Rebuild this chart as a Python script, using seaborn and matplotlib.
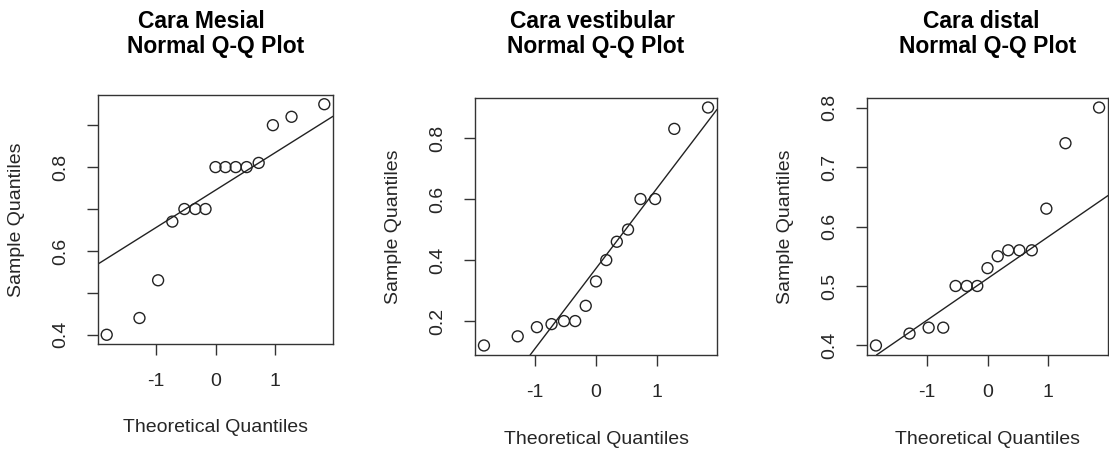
from statistics import NormalDist

import matplotlib
import numpy as np
import seaborn as sns

matplotlib.use("Agg")
import matplotlib.pyplot as plt


# sample values (sorted)
mesial = [0.40, 0.44, 0.53, 0.67, 0.70, 0.70, 0.70, 0.80, 0.80, 0.80, 0.80, 0.81, 0.90, 0.92, 0.95]
vestibular = [0.12, 0.15, 0.18, 0.19, 0.20, 0.20, 0.25, 0.33, 0.40, 0.46, 0.50, 0.60, 0.60, 0.83, 0.90]
distal = [0.40, 0.42, 0.43, 0.43, 0.50, 0.50, 0.50, 0.53, 0.55, 0.56, 0.56, 0.56, 0.63, 0.74, 0.80]

titles = ["Cara Mesial", "Cara vestibular", "Cara distal"]
subtitle = "Normal Q-Q Plot"
x_ticks = [-1, 0, 1]
y_ticks = [
    [0.4, 0.5, 0.6, 0.7, 0.8, 0.9],
    [0.2, 0.4, 0.6, 0.8],
    [0.4, 0.5, 0.6, 0.7, 0.8],
]
y_tick_labels = [
    ["0.4", "", "0.6", "", "0.8", ""],
    ["0.2", "0.4", "0.6", "0.8"],
    ["0.4", "0.5", "0.6", "0.7", "0.8"],
]

W, H = 1109, 451
# axes boxes in pixels: left, top, right, bottom
boxes = [(98, 95, 333, 344), (475, 98, 717, 355), (867, 98, 1108, 355)]
# first title line sits a little left of the axes centre in the original
title_shift = [-14, -3, -6]

TEXT = "#262626"


def setup_style() -> None:
    sns.set_style("ticks")
    plt.rcParams["font.family"] = ["Liberation Sans", "DejaVu Sans"]
    plt.rcParams["axes.edgecolor"] = "#333333"
    plt.rcParams["xtick.color"] = "#333333"
    plt.rcParams["ytick.color"] = "#333333"
    plt.rcParams["xtick.labelcolor"] = TEXT
    plt.rcParams["ytick.labelcolor"] = TEXT


def theoretical(n: int) -> np.ndarray:
    a = 3 / 8 if n <= 10 else 0.5
    nd = NormalDist()
    return np.array([nd.inv_cdf((i - a) / (n + 1 - 2 * a)) for i in range(1, n + 1)])


def r_lim(lo: float, hi: float) -> tuple[float, float]:
    pad = (hi - lo) * 0.04
    return lo - pad, hi + pad


def draw_panel(fig, idx: int, values: list[float]) -> None:
    left, top, right, bottom = boxes[idx]
    ax = fig.add_axes([left / W, 1 - bottom / H, (right - left) / W, (bottom - top) / H])

    y = np.sort(np.array(values))
    x = theoretical(len(y))

    sns.scatterplot(
        x=x, y=y, ax=ax, s=62, marker="o",
        facecolor="none", edgecolor="#222222", linewidth=1.0, zorder=3,
    )

    # qqline through the quartiles
    q1, q3 = np.quantile(y, [0.25, 0.75])
    z = NormalDist().inv_cdf(0.75)
    slope = (q3 - q1) / (2 * z)
    intercept = q1 + slope * z
    ax.axline((0, intercept), slope=slope, color="#222222", linewidth=1.0)

    ax.set_xlim(*r_lim(x.min(), x.max()))
    ax.set_ylim(*r_lim(y.min(), y.max()))
    ax.set_xticks(x_ticks)
    ax.set_xticklabels([str(t) for t in x_ticks])
    ax.set_yticks(y_ticks[idx])
    ax.set_yticklabels(y_tick_labels[idx], rotation=90, va="center")
    ax.tick_params(axis="both", direction="out", length=8, width=1.0, labelsize=14)
    ax.tick_params(axis="x", pad=13)
    ax.tick_params(axis="y", pad=13)
    for spine in ax.spines.values():
        spine.set_visible(True)
        spine.set_linewidth(1.0)
    ax.set_xlabel("")
    ax.set_ylabel("")

    cx = (left + right) / 2
    fig.text((cx + title_shift[idx]) / W, 1 - 22 / H, titles[idx], ha="center", va="center",
             fontsize=16.5, fontweight="bold", color="black")
    fig.text(cx / W, 1 - 47 / H, subtitle, ha="center", va="center",
             fontsize=16.5, fontweight="bold", color="black")
    fig.text(cx / W, 1 - (bottom + 84) / H, "Theoretical Quantiles",
             ha="center", va="center", fontsize=14, color=TEXT)
    fig.text((left - 81) / W, 1 - ((top + bottom) / 2) / H, "Sample Quantiles",
             ha="center", va="center", rotation=90, fontsize=14, color=TEXT)


def main() -> None:
    setup_style()
    fig = plt.figure(figsize=(W / 100, H / 100), dpi=100)
    fig.patch.set_facecolor("white")
    for idx, values in enumerate([mesial, vestibular, distal]):
        draw_panel(fig, idx, values)
    fig.savefig("out.png", dpi=100)
    plt.close(fig)


if __name__ == "__main__":
    main()
